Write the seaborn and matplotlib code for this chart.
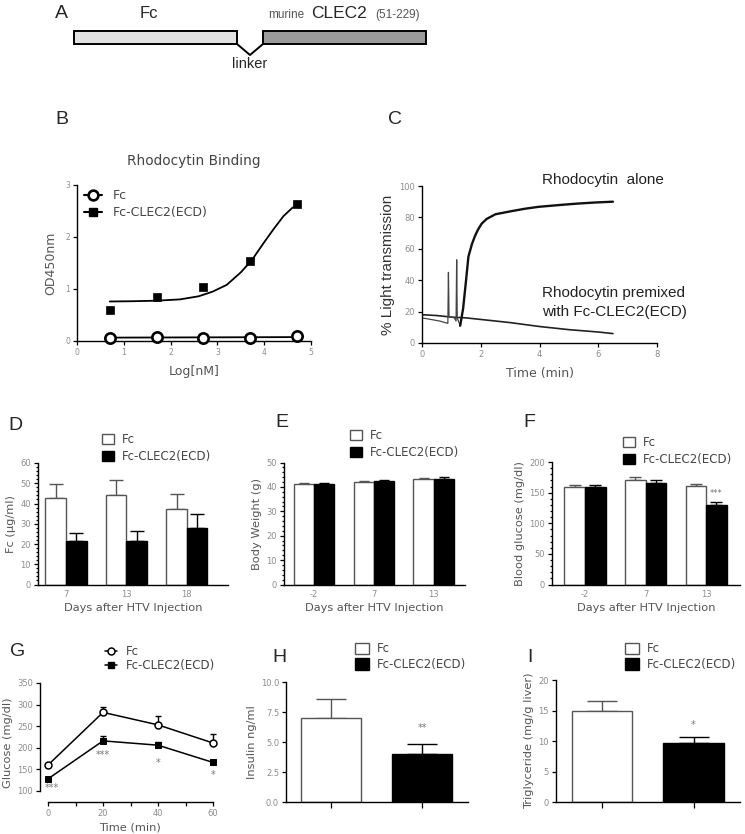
import numpy as np
import pandas as pd
import matplotlib
matplotlib.use("Agg")
import matplotlib.pyplot as plt
import seaborn as sns
from matplotlib.patches import Patch
from matplotlib.lines import Line2D
from matplotlib.container import BarContainer
from matplotlib.ticker import MultipleLocator

# ---------------- values ----------------
groups = ["Fc", "Fc-CLEC2(ECD)"]

# B: rhodocytin binding
log_nm = [0.7, 1.7, 2.7, 3.7, 4.7]
od_fc = [0.06, 0.08, 0.06, 0.06, 0.10]
od_clec2 = [0.60, 0.84, 1.03, 1.53, 2.63]
fit_fc_x = [0.7, 4.7]
fit_fc_y = [0.065, 0.075]
fit_clec2_x = [0.7, 1.2, 1.7, 2.2, 2.6, 2.9, 3.2, 3.5, 3.74, 4.0, 4.2, 4.41, 4.6, 4.74]
fit_clec2_y = [0.76, 0.765, 0.775, 0.80, 0.86, 0.95, 1.08, 1.32, 1.56, 1.90, 2.15, 2.40, 2.56, 2.63]

# C: light transmission traces
alone_t = [0, 0, 0, 0.3, 0.6, 0.88, 0.9, 0.92, 1.0, 1.1, 1.16, 1.18, 1.2, 1.3, 1.4, 1.5,
           1.58, 1.7, 1.8, 1.9, 2.03, 2.2, 2.5, 3.05, 3.5, 3.95, 4.75, 5.3, 5.9, 6.5]
alone_v = [60, 12, 16, 15, 14, 12.5, 45, 17, 16.5, 16, 14, 53, 16, 11, 22, 40,
           55, 63, 68, 72, 76, 79, 82, 84, 85.5, 86.7, 88, 88.8, 89.5, 90]
premix_t = [0, 0.5, 1.0, 1.5, 2, 3, 4, 5, 6, 6.5]
premix_v = [18, 17.5, 16.5, 16, 15, 13, 10.5, 8.5, 7, 6]

# D: serum Fc
days_d = ["7", "13", "18"]
serum_fc = [42.7, 44.3, 37.2]
serum_fc_err = [7.1, 7.2, 7.3]
serum_clec2 = [21.7, 21.5, 28.1]
serum_clec2_err = [3.9, 5.1, 6.5]

# E: body weight, F: blood glucose
days_ef = ["-2", "7", "13"]
weight_fc = [41.3, 42.0, 43.2]
weight_fc_err = [0.5, 0.5, 0.6]
weight_clec2 = [41.3, 42.3, 43.2]
weight_clec2_err = [0.5, 0.6, 0.7]
bg_fc = [160, 170, 161]
bg_fc_err = [3, 6, 3]
bg_clec2 = [159, 165, 130]
bg_clec2_err = [3, 5, 4]

# G: glucose tolerance
gtt_time = [0, 20, 40, 60]
gtt_fc = [160, 282, 253, 211]
gtt_fc_err = [3, 13, 20, 21]
gtt_clec2 = [128, 216, 206, 166]
gtt_clec2_err = [3, 12, 8, 3]
gtt_stars = ["***", "***", "*", "*"]
gtt_star_y = [108, 183, 164, 138]

# H: insulin, I: liver triglyceride
insulin = [7.0, 4.0]
insulin_err = [1.55, 0.85]
tg = [15.0, 9.7]
tg_err = [1.6, 0.9]

# ---------------- figure ----------------
W, H = 745, 834
sns.set_theme(style="ticks")
plt.rcParams["font.family"] = ["DejaVu Sans"]
plt.rcParams["axes.linewidth"] = 1.0

fig = plt.figure(figsize=(W / 100, H / 100), dpi=100)

TICK = "#8c8c8c"
LAB = "#555555"
EDGE = "#555555"
HELV = "Liberation Sans"
AX_FS = 8.2
palette = {groups[0]: "white", groups[1]: "black"}
edges = [EDGE, "black"]


def px_axes(x0, y0, x1, y1):
    return fig.add_axes([x0 / W, 1 - y1 / H, (x1 - x0) / W, (y1 - y0) / H])


def fig_text(x, y, s, **kw):
    fig.text(x / W, 1 - y / H, s, **kw)


def style(ax):
    sns.despine(ax=ax)
    for s in ("left", "bottom"):
        ax.spines[s].set_color("black")
        ax.spines[s].set_linewidth(1.0)
    ax.tick_params(which="both", direction="out", length=3, width=0.9, color="black",
                   labelsize=6, labelcolor=TICK, pad=2)
    ax.grid(False)


def bar_legend(ax, x, y, size=1.0, spacing=0.35):
    handles = [Patch(facecolor="white", edgecolor=EDGE, linewidth=1.0),
               Patch(facecolor="black", edgecolor="black", linewidth=1.0)]
    ax.legend(handles, groups, loc="upper left", bbox_to_anchor=(x / W, 1 - y / H),
              bbox_transform=fig.transFigure, frameon=False, borderpad=0, borderaxespad=0,
              handlelength=size, handleheight=size, handletextpad=0.7,
              labelspacing=spacing, fontsize=8.5, labelcolor="#444444")


def add_errors(ax, errs, capsize):
    bars = [c for c in ax.containers if isinstance(c, BarContainer)]
    for k, cont in enumerate(bars):
        for bar, e in zip(cont, errs[k]):
            bar.set_edgecolor(edges[k])
            bar.set_linewidth(1.0)
            xc = bar.get_x() + bar.get_width() / 2
            ax.errorbar(xc, bar.get_height(), yerr=[[0], [e]], fmt="none", ecolor=edges[k],
                        elinewidth=1.0, capsize=capsize, capthick=1.0, zorder=1)


def grouped_bars(ax, cats, fc, fc_err, cl, cl_err, capsize):
    df = pd.DataFrame({"cat": cats * 2,
                       "group": [groups[0]] * len(cats) + [groups[1]] * len(cats),
                       "value": fc + cl})
    sns.barplot(data=df, x="cat", y="value", hue="group", order=cats, hue_order=groups,
                palette=palette, width=0.68, errorbar=None, legend=False, ax=ax, zorder=2)
    add_errors(ax, [fc_err, cl_err], capsize)
    style(ax)
    ax.tick_params(axis="x", length=0, pad=4)
    ax.set_xlabel("Days after HTV Injection", fontsize=AX_FS, color=LAB, labelpad=3)


def pair_bars(ax, vals, errs, capsize):
    df = pd.DataFrame({"group": groups, "value": vals})
    sns.barplot(data=df, x="group", y="value", hue="group", order=groups, hue_order=groups,
                palette=palette, width=0.66, errorbar=None, legend=False, ax=ax, zorder=2)
    add_errors(ax, [[errs[0]], [errs[1]]], capsize)
    style(ax)
    ax.set_xticks([0, 1])
    ax.set_xticklabels(["", ""])
    ax.tick_params(axis="x", length=4)
    ax.set_xlabel("")


# ---------- A: construct schematic ----------
ax_a = px_axes(0, 0, W, 72)
ax_a.set_xlim(0, W)
ax_a.set_ylim(72, 0)
ax_a.axis("off")
ax_a.barh([37.5, 37.5], [163, 163], left=[74, 263], height=13,
          color=["#e2e2e2", "#9b9b9b"], edgecolor="black", linewidth=1.4)
ax_a.plot([237, 250, 263], [44, 55, 44], color="black", lw=1.4)
ax_a.text(55, 14, "A", fontsize=14, family=HELV, va="center")
ax_a.text(149, 14, "Fc", fontsize=12, family=HELV, va="center", ha="center")
ax_a.text(268, 15, "murine", fontsize=8.5, family=HELV, color="#555555", va="center")
ax_a.text(311, 14, "CLEC2", fontsize=12.5, family=HELV, va="center")
ax_a.text(375, 15, "(51-229)", fontsize=8.5, family=HELV, color="#555555", va="center")
ax_a.text(250, 64, "linker", fontsize=10.5, family=HELV, va="center", ha="center")

# ---------- B: rhodocytin binding ----------
ax_b = px_axes(77, 185, 311, 341)
sns.lineplot(x=fit_fc_x, y=fit_fc_y, color="black", lw=1.3, ax=ax_b)
sns.lineplot(x=fit_clec2_x, y=fit_clec2_y, color="black", lw=1.3, ax=ax_b)
sns.scatterplot(x=log_nm, y=od_fc, marker="o", s=55, facecolor="white", edgecolor="black",
                linewidth=1.9, ax=ax_b, zorder=3, clip_on=False)
sns.scatterplot(x=log_nm, y=od_clec2, marker="s", s=38, color="black", edgecolor="black",
                ax=ax_b, zorder=3, clip_on=False)
ax_b.set_xlim(0, 5)
ax_b.set_ylim(0, 3)
ax_b.set_xticks(range(6))
ax_b.set_yticks(range(4))
style(ax_b)
ax_b.tick_params(labelsize=5.5)
ax_b.set_xlabel("Log[nM]", fontsize=9, color=LAB, labelpad=6)
ax_b.set_ylabel("OD450nm", fontsize=9, color=LAB, labelpad=6)
fig_text(194, 161, "Rhodocytin Binding", fontsize=9.8, color="#444444", ha="center", va="center")
fig_text(55, 120, "B", fontsize=14, family=HELV, va="center")
b_handles = [Line2D([], [], color="black", lw=1.5, marker="o", ms=7, mfc="white", mec="black", mew=1.9),
             Line2D([], [], color="black", lw=1.5, marker="s", ms=5.5, mfc="black", mec="black")]
ax_b.legend(b_handles, groups, loc="upper left", bbox_to_anchor=(84 / W, 1 - 189 / H),
            bbox_transform=fig.transFigure, frameon=False, borderpad=0, borderaxespad=0,
            handlelength=1.4, handletextpad=0.9, labelspacing=0.35, fontsize=9,
            labelcolor="#444444")

# ---------- C: light transmission ----------
ax_c = px_axes(422, 186, 657, 343)
rise = alone_t.index(1.3)
sns.lineplot(x=premix_t, y=premix_v, sort=False, estimator=None, color="#222222", lw=1.2, ax=ax_c)
sns.lineplot(x=alone_t[:rise + 1], y=alone_v[:rise + 1], sort=False, estimator=None,
             color="#444444", lw=0.9, ax=ax_c)
sns.lineplot(x=alone_t[rise:], y=alone_v[rise:], sort=False, estimator=None,
             color="#111111", lw=1.7, ax=ax_c)
ax_c.set_xlim(0, 8)
ax_c.set_ylim(0, 100)
ax_c.set_xticks([0, 2, 4, 6, 8])
ax_c.set_yticks(range(0, 101, 20))
style(ax_c)
ax_c.set_xlabel("Time (min)", fontsize=9, color=LAB, labelpad=6)
ax_c.set_ylabel("% Light transmission", fontsize=11, family=HELV, color="#333333", labelpad=3)
fig_text(388, 120, "C", fontsize=14, family=HELV, va="center")
fig_text(542, 180, "Rhodocytin  alone", fontsize=11, family=HELV, color="#222222", va="center")
fig_text(542, 293, "Rhodocytin premixed", fontsize=11, family=HELV, color="#222222", va="center")
fig_text(542, 312, "with Fc-CLEC2(ECD)", fontsize=11, family=HELV, color="#222222", va="center")

# ---------- D: serum Fc ----------
ax_d = px_axes(38, 463, 228, 584.5)
grouped_bars(ax_d, days_d, serum_fc, serum_fc_err, serum_clec2, serum_clec2_err, 5)
ax_d.set_xlim(-0.463, 2.68)
ax_d.set_ylim(0, 60)
ax_d.yaxis.set_major_locator(MultipleLocator(10))
ax_d.yaxis.set_minor_locator(MultipleLocator(2))
ax_d.tick_params(axis="y", which="minor", length=1.5)
ax_d.set_ylabel("Fc (µg/ml)", fontsize=AX_FS, color=LAB, labelpad=3)
bar_legend(ax_d, 102, 433)
fig_text(8, 425, "D", fontsize=14, family=HELV, va="center")

# ---------- E: body weight ----------
ax_e = px_axes(284, 462.5, 465, 584.5)
grouped_bars(ax_e, days_ef, weight_fc, weight_fc_err, weight_clec2, weight_clec2_err, 3.5)
ax_e.set_xlim(-0.5, 2.52)
ax_e.set_ylim(0, 50)
ax_e.yaxis.set_major_locator(MultipleLocator(10))
ax_e.yaxis.set_minor_locator(MultipleLocator(2))
ax_e.tick_params(axis="y", which="minor", length=1.5)
ax_e.set_ylabel("Body Weight (g)", fontsize=AX_FS, color=LAB, labelpad=3)
bar_legend(ax_e, 350, 429)
fig_text(275, 423, "E", fontsize=14, family=HELV, va="center")

# ---------- F: blood glucose ----------
ax_f = px_axes(552, 462, 740, 584.5)
grouped_bars(ax_f, days_ef, bg_fc, bg_fc_err, bg_clec2, bg_clec2_err, 4)
ax_f.set_xlim(-0.545, 2.56)
ax_f.set_ylim(0, 200)
ax_f.yaxis.set_major_locator(MultipleLocator(50))
ax_f.yaxis.set_minor_locator(MultipleLocator(10))
ax_f.tick_params(axis="y", which="minor", length=1.5)
ax_f.set_ylabel("Blood glucose (mg/dl)", fontsize=AX_FS, color=LAB, labelpad=3)
ax_f.text(2.17, 149, "***", fontsize=6, color="#777777", ha="center", va="center")
bar_legend(ax_f, 623, 436)
fig_text(523, 423, "F", fontsize=14, family=HELV, va="center")

# ---------- G: glucose tolerance ----------
ax_g = px_axes(40, 683, 220, 802)
ax_g.errorbar(gtt_time, gtt_fc, yerr=[[0] * 4, gtt_fc_err], fmt="none", ecolor="black",
              elinewidth=1.0, capsize=2, capthick=1.0)
ax_g.errorbar(gtt_time, gtt_clec2, yerr=[[0] * 4, gtt_clec2_err], fmt="none", ecolor="black",
              elinewidth=1.0, capsize=2, capthick=1.0)
sns.lineplot(x=gtt_time, y=gtt_fc, color="black", lw=1.1, marker="o", markersize=5,
             markerfacecolor="white", markeredgecolor="black", markeredgewidth=1.1, ax=ax_g)
sns.lineplot(x=gtt_time, y=gtt_clec2, color="black", lw=1.1, marker="s", markersize=4,
             markerfacecolor="black", markeredgecolor="black", ax=ax_g)
for t, s, y in zip(gtt_time, gtt_stars, gtt_star_y):
    ax_g.text(t + (1.5 if t == 0 else 0), y, s, fontsize=7, color="#777777", ha="center", va="center")
ax_g.set_xlim(-2.9, 62.5)
ax_g.set_ylim(74.5, 350)
ax_g.set_xticks([0, 20, 40, 60])
ax_g.xaxis.set_minor_locator(MultipleLocator(10))
ax_g.set_yticks(range(100, 351, 50))
style(ax_g)
ax_g.spines["left"].set_bounds(100, 350)
ax_g.spines["bottom"].set_bounds(0, 60)
ax_g.set_xlabel("Time (min)", fontsize=AX_FS, color=LAB, labelpad=3)
ax_g.set_ylabel("Glucose (mg/dl)", fontsize=AX_FS, color=LAB, labelpad=3)
g_handles = [Line2D([], [], color="black", lw=1.1, marker="o", ms=5, mfc="white", mec="black", mew=1.1),
             Line2D([], [], color="black", lw=1.1, marker="s", ms=4, mfc="black", mec="black")]
ax_g.legend(g_handles, groups, loc="upper left", bbox_to_anchor=(105 / W, 1 - 645 / H),
            bbox_transform=fig.transFigure, frameon=False, borderpad=0, borderaxespad=0,
            handlelength=1.0, handletextpad=0.8, labelspacing=0.1, fontsize=8.5,
            labelcolor="#444444")
fig_text(10, 652, "G", fontsize=14, family=HELV, va="center")

# ---------- H: insulin ----------
ax_h = px_axes(286, 682, 468, 802.3)
pair_bars(ax_h, insulin, insulin_err, 10.5)
ax_h.set_xlim(-0.495, 1.505)
ax_h.set_ylim(0, 10)
ax_h.set_yticks([0, 2.5, 5, 7.5, 10])
ax_h.set_ylabel("Insulin ng/ml", fontsize=AX_FS, color=LAB, labelpad=3)
ax_h.text(1, 6.2, "**", fontsize=7, color="#777777", ha="center", va="center")
bar_legend(ax_h, 355, 642.5, size=1.15, spacing=0.2)
fig_text(272, 657, "H", fontsize=14, family=HELV, va="center")

# ---------- I: liver triglyceride ----------
ax_i = px_axes(556, 680, 740, 802.3)
pair_bars(ax_i, tg, tg_err, 11)
ax_i.set_xlim(-0.503, 1.508)
ax_i.set_ylim(0, 20)
ax_i.set_yticks(range(0, 21, 5))
ax_i.set_ylabel("Triglyceride (mg/g liver)", fontsize=AX_FS, color=LAB, labelpad=3)
ax_i.text(1, 12.7, "*", fontsize=7, color="#777777", ha="center", va="center")
bar_legend(ax_i, 625, 642.5, size=1.15, spacing=0.2)
fig_text(527, 657, "I", fontsize=14, family=HELV, va="center")

fig.savefig("out.png", dpi=100)
